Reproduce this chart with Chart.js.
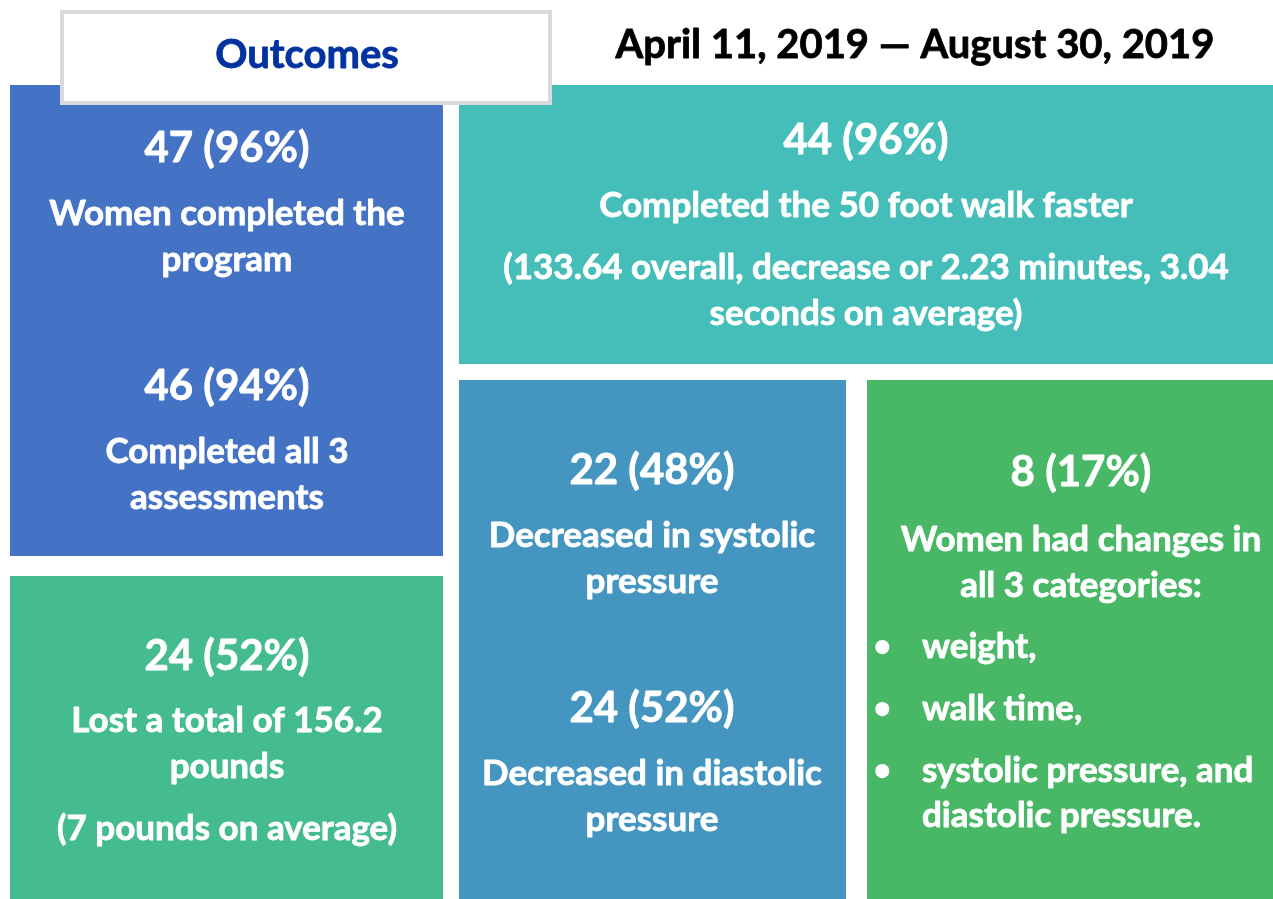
<!DOCTYPE html>
<html>
<head>
<meta charset="utf-8">
<title>Outcomes</title>
<script src="https://cdn.jsdelivr.net/npm/chart.js@4/dist/chart.umd.min.js"></script>
<style>
    html, body { margin: 0; padding: 0; background: #ffffff; }
    #wrap { width: 1273px; height: 899px; }
</style>
</head>
<body>
<div id="wrap"><canvas id="outcomesChart" width="1273" height="899"></canvas></div>
<script>
// Başlıklar
const TITLE = 'Outcomes';
const PERIOD = 'April 11, 2019 \u2014 August 30, 2019';

// Sonuç değerleri (her kutu için)
const counts = [47, 46, 44, 24, 22, 24, 8];
const percents = [96, 94, 96, 52, 48, 52, 17];
const captions = [
    ['Women completed the', 'program'],
    ['Completed all 3', 'assessments'],
    ['Completed the 50 foot walk faster'],
    ['Lost a total of 156.2', 'pounds'],
    ['Decreased in systolic', 'pressure'],
    ['Decreased in diastolic', 'pressure'],
    ['Women had changes in', 'all 3 categories:']
];
const notes = [
    [],
    [],
    ['(133.64 overall, decrease or 2.23 minutes, 3.04', 'seconds on average)'],
    ['(7 pounds on average)'],
    [],
    [],
    []
];
// her madde: satırlar
const categories = [['weight,'], ['walk time,'], ['systolic pressure, and', 'diastolic pressure.']];

/**
 * Yerleşim (layout birimleri = piksel ölçeği)
 */
const TILES = [
    { x0: 10,  x1: 443,  y0: 85,  y1: 556, color: '#4472C4' },
    { x0: 459, x1: 1273, y0: 85,  y1: 364, color: '#45BEB9' },
    { x0: 10,  x1: 443,  y0: 576, y1: 899, color: '#45BC8D' },
    { x0: 459, x1: 846,  y0: 380, y1: 899, color: '#4496C1' },
    { x0: 867, x1: 1273, y0: 380, y1: 899, color: '#48B766' }
];
const TITLE_BOX = { x0: 60, x1: 552, y0: 10, y1: 105 };

// blok: [değer index, merkez x, başlık y, ilk satır y]
const BLOCKS = [
    { i: 0, cx: 227, hy: 148, ly: 214 },
    { i: 1, cx: 227, hy: 386, ly: 452 },
    { i: 2, cx: 866, hy: 140, ly: 206, ny: 268 },
    { i: 3, cx: 227, hy: 656, ly: 721, ny: 829 },
    { i: 4, cx: 652, hy: 470, ly: 536 },
    { i: 5, cx: 652, hy: 708, ly: 774 },
    { i: 6, cx: 1081, hy: 472, ly: 540 }
];
const LIST = { bx: 880, tx: 922, y: [647, 709, 771] };

const FONT = 'Lato, "Open Sans", sans-serif';
const LINE_H = 46;

// kalın görünüm için ince kontur
function boldText(ctx, text, x, y) {
    ctx.strokeText(text, x, y);
    ctx.fillText(text, x, y);
}

const tilePlugin = {
    id: 'tiles',
    beforeDatasetsDraw(chart) {
        const { ctx, scales: { x, y } } = chart;
        const px = v => x.getPixelForValue(v);
        const py = v => y.getPixelForValue(v);
        ctx.save();

        TILES.forEach(t => {
            ctx.fillStyle = t.color;
            ctx.fillRect(px(t.x0), py(t.y0), px(t.x1) - px(t.x0), py(t.y1) - py(t.y0));
        });

        // Başlık kutusu
        const b = TITLE_BOX;
        ctx.fillStyle = '#ffffff';
        ctx.fillRect(px(b.x0), py(b.y0), px(b.x1) - px(b.x0), py(b.y1) - py(b.y0));
        ctx.strokeStyle = '#D9D9D9';
        ctx.lineWidth = 4;
        ctx.strokeRect(px(b.x0) + 2, py(b.y0) + 2, px(b.x1) - px(b.x0) - 4, py(b.y1) - py(b.y0) - 4);

        ctx.textBaseline = 'middle';
        ctx.textAlign = 'center';
        ctx.lineWidth = 0.8;
        ctx.lineJoin = 'round';

        ctx.fillStyle = ctx.strokeStyle = '#0033A0';
        ctx.font = 'bold 40px ' + FONT;
        boldText(ctx, TITLE, px(307), py(55));

        ctx.fillStyle = ctx.strokeStyle = '#000000';
        ctx.font = 'bold 40px ' + FONT;
        boldText(ctx, PERIOD, px(915), py(45));

        // Kutu metinleri
        ctx.fillStyle = ctx.strokeStyle = '#ffffff';
        BLOCKS.forEach(bl => {
            ctx.font = 'bold 42px ' + FONT;
            boldText(ctx, counts[bl.i] + ' (' + percents[bl.i] + '%)', px(bl.cx), py(bl.hy));
            ctx.font = 'bold 35px ' + FONT;
            captions[bl.i].forEach((line, k) => {
                boldText(ctx, line, px(bl.cx), py(bl.ly + k * LINE_H));
            });
            notes[bl.i].forEach((line, k) => {
                boldText(ctx, line, px(bl.cx), py(bl.ny + k * LINE_H));
            });
        });

        // Kategori listesi
        ctx.textAlign = 'left';
        categories.forEach((lines, k) => {
            ctx.font = 'bold 32px ' + FONT;
            ctx.fillText('\u2022', px(LIST.bx) - 7, py(LIST.y[k]));
            ctx.font = 'bold 35px ' + FONT;
            lines.forEach((line, j) => {
                boldText(ctx, line, px(LIST.tx), py(LIST.y[k] + j * 45));
            });
        });

        ctx.restore();
    }
};

new Chart(document.getElementById('outcomesChart'), {
    type: 'scatter',
    data: { datasets: [{ data: [] }] },
    options: {
        responsive: false,
        animation: false,
        layout: { padding: 0 },
        plugins: { legend: { display: false }, tooltip: { enabled: false } },
        scales: {
            x: { type: 'linear', min: 0, max: 1273, display: false },
            y: { type: 'linear', min: 0, max: 899, reverse: true, display: false }
        }
    },
    plugins: [tilePlugin]
});
</script>
</body>
</html>
